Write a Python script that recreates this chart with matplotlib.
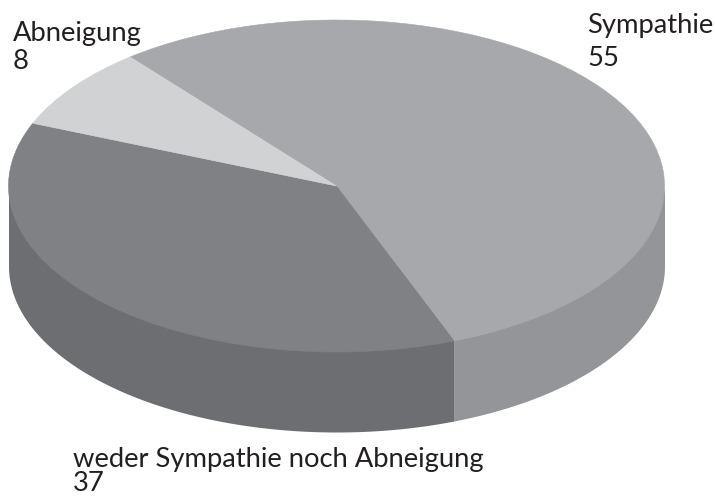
import numpy as np
import matplotlib
matplotlib.use("Agg")
import matplotlib.pyplot as plt

categories = ["Sympathie", "weder Sympathie noch Abneigung", "Abneigung"]
values = [55, 37, 8]
top_colors = ["#a7a8ab", "#808184", "#d1d2d4"]
side_colors = ["#939598", "#6d6e71", "#bcbec0"]

W, H = 715, 497
plt.rcParams["font.family"] = ["Lato", "DejaVu Sans"]
fig = plt.figure(figsize=(W / 100, H / 100), dpi=100)
ax = fig.add_axes([0, 0, 1, 1])

cx, cy, rx, ry, depth = 336.5, 186, 328, 166, 80
start = 129

wedges, _ = ax.pie(values, colors=top_colors, startangle=start, counterclock=False,
                   radius=1, wedgeprops=dict(linewidth=0.4))
for w, c in zip(wedges, top_colors):
    w.set_edgecolor(c)

# Side wall of the disc, derived from the slice angles; starts under the top face
fractions = np.array(values) / sum(values)
edges = start - 360 * np.concatenate([[0], np.cumsum(fractions)])
d = depth / ry
for i in range(len(values)):
    t = np.radians(np.linspace(edges[i], edges[i + 1], 721))
    vis = np.sin(t) <= 0
    if vis.any():
        ax.fill_between(np.cos(t[vis]), 0.5 * np.sin(t[vis]), np.sin(t[vis]) - d,
                        color=side_colors[i], linewidth=0, zorder=0.5)

# Map unit circle onto the flattened ellipse
ax.set_aspect("auto")
ax.set_xlim(-cx / rx, (W - cx) / rx)
ax.set_ylim(-(H - cy) / ry, cy / ry)
ax.axis("off")

fs = 19.7
text_color = "#231f20"
labels = [(587, 33, 66), (73, 467, 491), (13, 41, 69)]
for name, v, (x, y1, y2) in zip(categories, values, labels):
    fig.text(x / W, 1 - y1 / H, name, fontsize=fs, color=text_color, va="baseline")
    fig.text(x / W, 1 - y2 / H, str(v), fontsize=fs, color=text_color, va="baseline")

fig.savefig("out.png", dpi=100)
